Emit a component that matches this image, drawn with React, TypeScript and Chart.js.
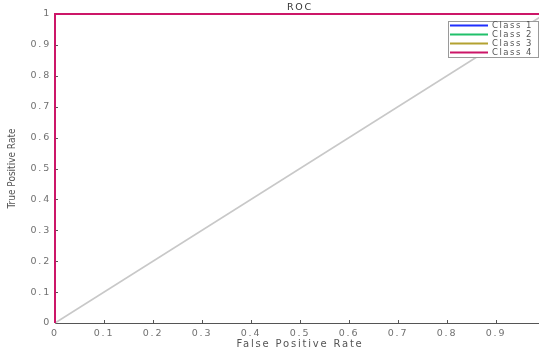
import { useEffect, useRef } from 'react';
import { Chart, registerables } from 'chart.js';

Chart.register(...registerables);

const falsePositiveRate = [0, 0, 1];
const class1Tpr = [0, 1, 1];
const class2Tpr = [0, 1, 1];
const class3Tpr = [0, 1, 1];
const class4Tpr = [0, 1, 1];
const chanceFpr = [0, 1];
const chanceTpr = [0, 1];
const classNames = ['Class 1', 'Class 2', 'Class 3', 'Class 4'];
const classColors = ['#1f2fff', '#20c06a', '#b3a231', '#cc1668'];
const classSeries = [class1Tpr, class2Tpr, class3Tpr, class4Tpr];
const tickValues = [0, 0.1, 0.2, 0.3, 0.4, 0.5, 0.6, 0.7, 0.8, 0.9, 1];
const tickLabels = ['0', '0.1', '0.2', '0.3', '0.4', '0.5', '0.6', '0.7', '0.8', '0.9', '1'];

const FONT = "'DejaVu Sans', sans-serif";
const SPACING = '1.8px';

const rocPlugin = {
  id: 'rocDecor',
  beforeUpdate(chart: any) {
    chart.ctx.letterSpacing = SPACING;
  },
  beforeDraw(chart: any) {
    chart.ctx.letterSpacing = SPACING;
  },
  afterLayout(chart: any) {
    const y = chart.scales.y;
    if (y && !y._noSpacingPatched) {
      const orig = y.drawTitle.bind(y);
      y.drawTitle = function () {
        const ctx = this.ctx;
        const prev = ctx.letterSpacing;
        ctx.letterSpacing = '0px';
        orig();
        ctx.letterSpacing = prev;
      };
      y._noSpacingPatched = true;
    }
  },
  beforeDatasetsDraw(chart: any) {
    const ctx = chart.ctx;
    const { left, bottom } = chart.chartArea;
    const xs = chart.scales.x;
    const ys = chart.scales.y;
    ctx.save();
    ctx.strokeStyle = '#555';
    ctx.lineWidth = 1;
    ctx.beginPath();
    for (const v of tickValues) {
      const px = Math.round(xs.getPixelForValue(v)) + 0.5;
      ctx.moveTo(px, bottom);
      ctx.lineTo(px, bottom - 3);
      const py = Math.round(ys.getPixelForValue(v)) + 0.5;
      ctx.moveTo(left, py);
      ctx.lineTo(left + 3, py);
    }
    ctx.stroke();
    ctx.restore();
  },
  afterDraw(chart: any) {
    const ctx = chart.ctx;
    const area = chart.chartArea;
    const items = chart.data.datasets.filter((d: any) => d.label);
    const rowH = 9;
    const boxW = 90;
    const boxRight = area.right - 7;
    const boxLeft = boxRight - boxW;
    const boxTop = area.top + 7;
    const boxH = rowH * items.length;
    ctx.save();
    ctx.letterSpacing = '1.5px';
    ctx.fillStyle = '#ffffff';
    ctx.fillRect(boxLeft, boxTop, boxW, boxH);
    ctx.strokeStyle = '#9a9a9a';
    ctx.lineWidth = 1;
    ctx.strokeRect(boxLeft + 0.5, boxTop + 0.5, boxW, boxH);
    ctx.font = `8.5px ${FONT}`;
    ctx.textBaseline = 'middle';
    ctx.textAlign = 'left';
    items.forEach((d: any, i: number) => {
      const cy = boxTop + 4.5 + i * rowH;
      ctx.strokeStyle = d.borderColor;
      ctx.lineWidth = 2;
      ctx.beginPath();
      ctx.moveTo(boxLeft + 2, cy);
      ctx.lineTo(boxLeft + 40, cy);
      ctx.stroke();
      ctx.fillStyle = '#555';
      ctx.fillText(d.label, boxLeft + 44, cy + 0.5);
    });
    ctx.restore();
  },
};

export default function App() {
  const canvasRef = useRef<HTMLCanvasElement | null>(null);

  useEffect(() => {
    const canvas = canvasRef.current;
    if (!canvas) return;

    const datasets: any[] = [
      {
        label: '',
        data: chanceFpr.map((x, i) => ({ x, y: chanceTpr[i] })),
        borderColor: '#c8c8c8',
        borderWidth: 1.5,
        pointRadius: 0,
        order: 10,
        clip: false,
      },
      ...classNames.map((name, k) => ({
        label: name,
        data: falsePositiveRate.map((x, i) => ({ x, y: classSeries[k][i] })),
        borderColor: classColors[k],
        backgroundColor: classColors[k],
        borderWidth: 2,
        pointRadius: 0,
        order: 4 - k,
        clip: false,
      })),
    ];

    const chart = new Chart(canvas, {
      type: 'line',
      data: { datasets },
      plugins: [rocPlugin],
      options: {
        animation: false,
        responsive: false,
        layout: { padding: { left: 0, right: 5, top: 0, bottom: 0 } },
        plugins: {
          legend: { display: false },
          tooltip: { enabled: false },
          title: {
            display: true,
            text: 'ROC',
            fullSize: false,
            color: '#333',
            font: { family: FONT, size: 9.5, weight: 'normal', lineHeight: 1.2 },
            padding: { top: 1.8, bottom: 0.8 },
          },
        },
        scales: {
          x: {
            type: 'linear',
            min: 0,
            max: 1,
            grid: { display: false, drawTicks: false },
            border: { display: true, color: '#555', width: 1 },
            afterBuildTicks: (s: any) => {
              s.ticks = tickValues.map((v) => ({ value: v }));
            },
            afterFit: (s: any) => {
              s.height = 35;
              s.paddingLeft = 0;
              s.paddingRight = 0;
            },
            ticks: {
              autoSkip: false,
              maxRotation: 0,
              padding: 4.5,
              color: '#707070',
              font: { family: FONT, size: 9.5 },
              callback: (_v: any, i: number) => tickLabels[i],
            },
            title: {
              display: true,
              text: 'False Positive Rate',
              color: '#555',
              font: { family: FONT, size: 10, lineHeight: 1.2 },
              padding: { top: 0, bottom: 7.5 },
            },
          },
          y: {
            type: 'linear',
            min: 0,
            max: 1,
            grid: { display: false, drawTicks: false },
            border: { display: true, color: '#555', width: 1 },
            afterBuildTicks: (s: any) => {
              s.ticks = tickValues.map((v) => ({ value: v }));
            },
            afterFit: (s: any) => {
              s.width = 55;
              s.paddingTop = 0;
              s.paddingBottom = 0;
            },
            ticks: {
              autoSkip: false,
              padding: 4,
              color: '#707070',
              font: { family: FONT, size: 9.5 },
              callback: (_v: any, i: number) => tickLabels[i],
            },
            title: {
              display: true,
              text: 'True Positive Rate',
              color: '#555',
              font: { family: "'DejaVu Sans Condensed', 'DejaVu Sans', sans-serif", size: 10, lineHeight: 1.2 },
              padding: { top: 6, bottom: 0 },
            },
          },
        },
      },
    });

    return () => chart.destroy();
  }, []);

  return (
    <div
      style={{
        position: 'fixed',
        left: 0,
        top: 0,
        width: 539,
        height: 358,
        overflow: 'hidden',
        background: '#fff',
      }}
    >
      <canvas ref={canvasRef} width={550} height={358} style={{ display: 'block' }} />
    </div>
  );
}
